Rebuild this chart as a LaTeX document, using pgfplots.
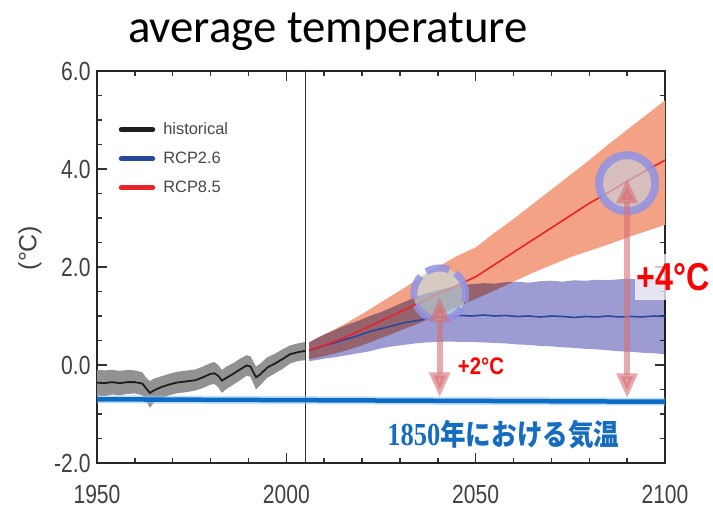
\documentclass[border=0pt]{standalone}
\usepackage{fontspec}
\setmainfont{Liberation Sans}
\newfontfamily\titlefont{Carlito}
\newfontfamily\cjk{Noto Sans CJK JP}
\newfontfamily\serifb{Liberation Serif}
\usepackage{pgfplots}
\pgfplotsset{compat=1.18}
\usepackage{pgfplotstable}
\usepgfplotslibrary{fillbetween}
\usetikzlibrary{arrows.meta}

\definecolor{histgray}{RGB}{146,146,146}
\definecolor{orangeband}{RGB}{244,162,134}
\definecolor{blueband}{RGB}{156,156,210}
\definecolor{rcpred}{RGB}{232,36,40}
\definecolor{rcpblue}{RGB}{40,72,160}
\definecolor{line1850}{RGB}{10,108,196}
\definecolor{halo1850}{RGB}{150,196,236}
\definecolor{c1850}{RGB}{22,108,190}
\definecolor{arrowc}{RGB}{214,112,118}
\definecolor{ringc}{RGB}{146,146,226}
\definecolor{cyanfill}{RGB}{190,236,242}
\definecolor{beigefill}{RGB}{200,208,220}

\newcommand{\tl}[1]{\scalebox{0.9}[1.12]{#1}}

\pgfplotstableread{
year mean lo hi
1950 -0.36 -0.63 -0.10
1952 -0.37 -0.64 -0.11
1954 -0.35 -0.60 -0.10
1956 -0.37 -0.62 -0.12
1958 -0.35 -0.59 -0.10
1960 -0.35 -0.58 -0.11
1962 -0.38 -0.62 -0.15
1963 -0.48 -0.74 -0.26
1964 -0.57 -0.87 -0.33
1965 -0.52 -0.77 -0.28
1967 -0.45 -0.68 -0.23
1969 -0.40 -0.62 -0.18
1971 -0.36 -0.58 -0.14
1974 -0.33 -0.55 -0.11
1976 -0.31 -0.52 -0.09
1978 -0.25 -0.47 -0.03
1980 -0.18 -0.40 0.04
1981 -0.17 -0.39 0.06
1982 -0.22 -0.45 0.00
1983 -0.32 -0.57 -0.10
1984 -0.27 -0.50 -0.04
1986 -0.18 -0.40 0.04
1988 -0.08 -0.30 0.14
1989.5 -0.01 -0.22 0.20
1990.5 -0.03 -0.24 0.18
1992 -0.25 -0.50 -0.03
1993 -0.20 -0.42 0.02
1995 -0.05 -0.26 0.16
1997 0.03 -0.17 0.23
1999 0.12 -0.08 0.32
2001 0.22 0.03 0.40
2003 0.26 0.08 0.44
2005 0.29 0.10 0.47
}\hist

\pgfplotstableread{
year mean lo hi
2006 0.30 0.08 0.46
2008 0.34 0.10 0.55
2010 0.40 0.13 0.62
2013 0.46 0.16 0.72
2016 0.53 0.20 0.82
2019 0.60 0.24 0.90
2022 0.68 0.28 1.00
2025 0.74 0.34 1.08
2028 0.80 0.38 1.18
2031 0.86 0.41 1.28
2034 0.90 0.44 1.38
2037 0.94 0.46 1.46
2040 0.97 0.47 1.52
2043 0.99 0.48 1.58
2046 1.01 0.47 1.63
2049 1.00 0.47 1.65
2052 1.02 0.46 1.67
2055 1.00 0.45 1.66
2058 1.01 0.44 1.69
2061 0.99 0.42 1.70
2064 1.00 0.41 1.68
2067 0.98 0.39 1.71
2070 1.00 0.38 1.72
2073 0.99 0.36 1.70
2076 0.97 0.35 1.73
2079 0.99 0.33 1.72
2082 0.98 0.32 1.74
2085 1.00 0.30 1.73
2088 0.98 0.28 1.75
2091 0.99 0.27 1.76
2094 0.98 0.25 1.75
2097 1.00 0.24 1.77
2100 0.99 0.22 1.78
}\rcpa

\pgfplotstableread{
year mean lo hi
2006 0.30 0.12 0.46
2010 0.40 0.18 0.62
2015 0.55 0.28 0.82
2020 0.72 0.40 1.04
2025 0.90 0.55 1.28
2030 1.08 0.70 1.52
2035 1.26 0.85 1.76
2040 1.45 1.02 2.00
2045 1.62 1.18 2.22
2050 1.80 1.35 2.40
2055 2.05 1.52 2.70
2060 2.30 1.70 2.98
2065 2.55 1.88 3.28
2070 2.80 2.04 3.58
2075 3.05 2.20 3.88
2080 3.30 2.33 4.18
2085 3.52 2.46 4.50
2090 3.75 2.60 4.80
2095 3.97 2.73 5.10
2100 4.18 2.86 5.40
}\rcpb

\begin{document}
\begin{tikzpicture}
\begin{axis}[
  at={(0,0)}, anchor=south west,
  scale only axis, width=568bp, height=392bp,
  xmin=1950, xmax=2100, ymin=-2, ymax=6,
  xtick={1950,2000,2050,2100}, xticklabels={\tl{1950},\tl{2000},\tl{2050},\tl{2100}},
  ytick={-2,0,2,4,6}, yticklabels={\tl{-2.0},\tl{0.0},\tl{2.0},\tl{4.0},\tl{6.0}},
  minor x tick num=4, minor y tick num=3,
  tick align=inside, major tick length=10bp, minor tick length=5bp,
  tick style={line width=1.5bp, color=black!80},
  axis line style={line width=2bp, color=black!85},
  ticklabel style={font=\fontsize{23.5}{26}\selectfont, text=black!75},
  xticklabel style={yshift=-19bp},
  yticklabel style={xshift=-3bp},
  clip mode=individual,
  legend cell align=left,
  legend style={at={(rel axis cs:0.038,0.870)}, anchor=north west, draw=none, fill=none,
    font=\fontsize{16.5}{18}\selectfont, text=black!72, inner sep=0pt,
    nodes={inner sep=0pt, text height=12bp, text depth=3bp},
    row sep=14bp, /tikz/every odd column/.style={column sep=8bp}},
  legend image code/.code={\draw[#1, line width=5.5bp, line cap=round] (0bp,0bp) -- (31bp,0bp);},
]
% bands
\addplot[name path=hlo, draw=none, forget plot] table[x=year,y=lo]{\hist};
\addplot[name path=hhi, draw=none, forget plot] table[x=year,y=hi]{\hist};
\addplot[fill=histgray, draw=none, forget plot] fill between[of=hlo and hhi];
\addplot[name path=blo, draw=none, forget plot] table[x=year,y=lo]{\rcpb};
\addplot[name path=bhi, draw=none, forget plot] table[x=year,y=hi]{\rcpb};
\addplot[fill=orangeband, draw=none, forget plot] fill between[of=blo and bhi];
\addplot[name path=alo, draw=none, forget plot] table[x=year,y=lo]{\rcpa};
\addplot[name path=ahi, draw=none, forget plot] table[x=year,y=hi]{\rcpa};
\addplot[fill=blueband, draw=none, blend mode=multiply, forget plot] fill between[of=alo and ahi];
% mean lines
\addplot[black!88, line width=1.8bp, forget plot] table[x=year,y=mean]{\hist};
\addplot[rcpblue, line width=1.6bp, forget plot] table[x=year,y=mean]{\rcpa};
\addplot[rcpred, line width=1.6bp, forget plot] table[x=year,y=mean]{\rcpb};
% legend
\addlegendimage{black!88}
\addlegendentry{historical}
\addlegendimage{rcpblue}
\addlegendentry{RCP2.6}
\addlegendimage{rcpred}
\addlegendentry{RCP8.5}
% 2005 divider
\draw[black!80, line width=1bp] (axis cs:2005,-2) -- (axis cs:2005,6);
% 1850 level
\addplot[halo1850, line width=8bp, opacity=0.55, forget plot] coordinates {(1950,-0.70) (2100,-0.75)};
\addplot[line1850, line width=4.5bp, forget plot] coordinates {(1950,-0.70) (2100,-0.75)};
% circles
\draw[line width=7bp, draw=ringc, draw opacity=0.85, fill=cyanfill, fill opacity=0.55, dash pattern=on 24bp off 7bp] (axis cs:2040.5,1.45) circle[radius=26bp];
\draw[line width=8bp, draw=ringc, draw opacity=0.85, fill=beigefill, fill opacity=0.65] (axis cs:2090,3.71) circle[radius=28bp];
% arrows
\draw[line width=6bp, color=arrowc, opacity=0.6, {Triangle[width=20bp,length=25bp]}-{Triangle[width=20bp,length=25bp]}] (axis cs:2040.5,-0.66) -- (axis cs:2040.5,1.39);
\draw[line width=6bp, color=arrowc, opacity=0.6, {Triangle[width=20bp,length=25bp]}-{Triangle[width=20bp,length=25bp]}] (axis cs:2090,-0.68) -- (axis cs:2090,3.81);
% labels
\node[text=red, font=\bfseries\fontsize{24}{26}\selectfont] at (axis cs:2051.4,-0.03) {\scalebox{0.85}[1]{+2°C}};
\node[fill=white, fill opacity=0.75, text opacity=1, text=red, inner xsep=2bp, inner ysep=9bp, font=\bfseries\fontsize{39}{42}\selectfont] at (axis cs:2102.2,1.80) {\scalebox{0.83}[1]{+4°C}};
\node[text=c1850, inner sep=0pt] at (axis cs:2057.3,-1.41) {{\serifb\bfseries\fontsize{28}{30}\selectfont\scalebox{0.95}[1.15]{1850}}{\cjk\bfseries\fontsize{29.5}{32}\selectfont\scalebox{0.87}[1]{年における気温}}};
\end{axis}
% title and y label
\node[font=\titlefont\fontsize{47}{50}\selectfont, anchor=base] at (231bp,420bp) {average temperature};
\node[font=\fontsize{25}{27}\selectfont, text=black!75, rotate=90] at (-67bp,215bp) {(°C)};
\path[use as bounding box] (-97bp,-46bp) rectangle (616bp,463bp);
\end{tikzpicture}
\end{document}
